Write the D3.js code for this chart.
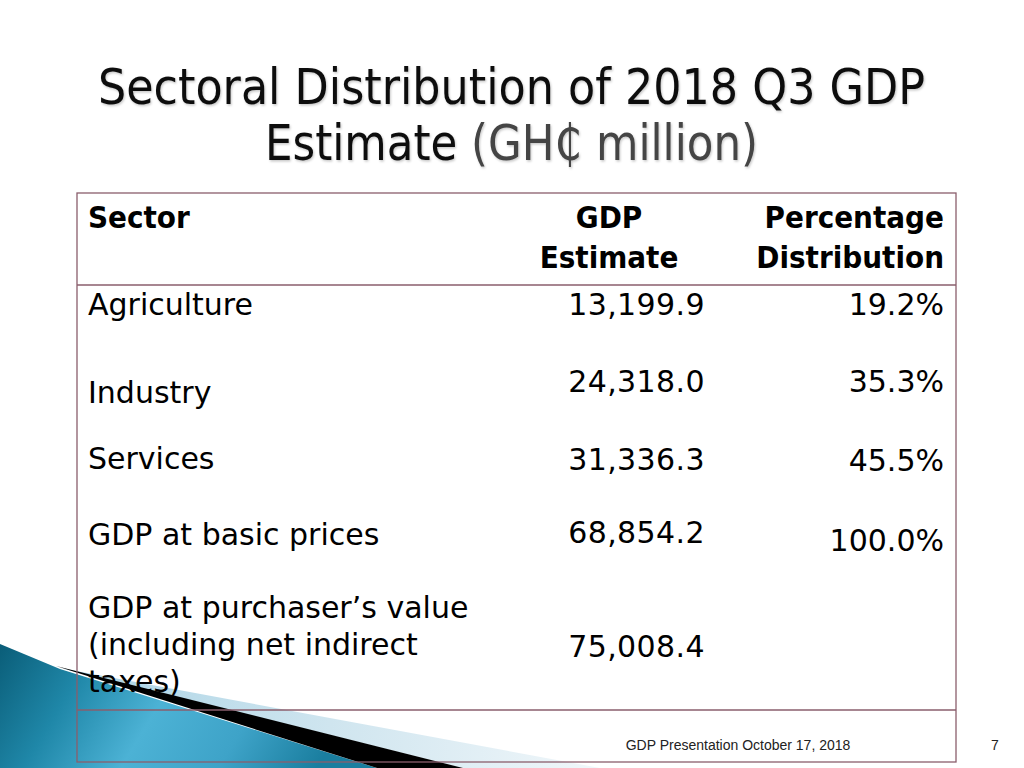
<!DOCTYPE html>
<html><head><meta charset="utf-8">
<script src="https://d3js.org/d3.v7.min.js"></script>
<style>body{margin:0;background:#fff}svg{display:block}</style>
</head><body>
<svg id="c" width="1024" height="768"></svg>
<script>
// ---- DATA ----
const titleLine1 = "Sectoral Distribution of 2018 Q3 GDP";
const titleLine2a = "Estimate ";
const titleLine2b = "(GH₵ million)";
const headerSector = ["Sector"];
const headerGdp = ["GDP", "Estimate"];
const headerPct = ["Percentage", "Distribution"];
const sectors = [
  ["Agriculture"],
  ["Industry"],
  ["Services"],
  ["GDP at basic prices"],
  ["GDP at purchaser’s value", "(including net indirect", "taxes)"]
];
const gdpEstimates = [13199.9, 24318.0, 31336.3, 68854.2, 75008.4];
const pctDistribution = [19.2, 35.3, 45.5, 100.0, null];
const footerText = "GDP Presentation October 17, 2018";
const slideNumber = "7";

// ---- LAYOUT ----
const L = {
  left: 77, right: 956, top: 193, headBottom: 285, lastLine: 710, bottom: 762,
  labelX: 88, valueRight: 705, pctRight: 944, gdpCenter: 609,
  headY: [228, 268],
  labelY: [315, 403, 469, 545, 618], lineStep: 37,
  valueY: [315, 392, 470, 543, 657],
  pctY: [315, 392, 471, 551, null]
};

const svg = d3.select("#c");
const defs = svg.append("defs");

// gradients
const g1 = defs.append("linearGradient").attr("id","blueG").attr("x1","0").attr("y1","0").attr("x2","1").attr("y2","0.2");
[[0,"#0a5d78"],[0.25,"#1f87a8"],[0.5,"#4cb2d5"],[0.75,"#3ea3c8"],[1,"#1a7e9f"]].forEach(s=>g1.append("stop").attr("offset",s[0]).attr("stop-color",s[1]));
const g2 = defs.append("linearGradient").attr("id","paleG").attr("x1","0").attr("y1","0").attr("x2","1").attr("y2","0");
[[0,"#a9d3e5"],[0.5,"#cfe5ef"],[1,"#f1f7fa"]].forEach(s=>g2.append("stop").attr("offset",s[0]).attr("stop-color",s[1]));
const sh = defs.append("filter").attr("id","shadow").attr("x","-5%").attr("y","-20%").attr("width","110%").attr("height","140%");
sh.append("feDropShadow").attr("dx",1).attr("dy",1.5).attr("stdDeviation",1.2).attr("flood-color","#000").attr("flood-opacity",0.22);

// decoration bottom-left
const line = d3.line();
svg.append("path").attr("d", line([[60,668],[600,768],[463,768]]) + "Z").attr("fill","url(#paleG)");
svg.append("path").attr("d", line([[0,644],[60,669],[377,768],[0,768]]) + "Z").attr("fill","url(#blueG)");
svg.append("path").attr("d", line([[56,666],[463,768],[377,768]]) + "Z").attr("fill","#000");

// title
const title = svg.append("g").attr("filter","url(#shadow)")
  .style("font-family","'DejaVu Sans Condensed','DejaVu Sans',sans-serif").style("font-size","49px");
title.append("text").attr("x",98).attr("y",104).attr("textLength",827).attr("lengthAdjust","spacingAndGlyphs")
  .attr("fill","#111").text(titleLine1);
const t2 = title.append("text").attr("x",265).attr("y",160).attr("textLength",493).attr("lengthAdjust","spacingAndGlyphs");
t2.append("tspan").attr("fill","#111").text(titleLine2a);
t2.append("tspan").attr("fill","#444").text(titleLine2b);

// table borders
const border = "#8a5e6c";
const tb = svg.append("g").attr("stroke", border).attr("stroke-width",1.3).attr("fill","none");
tb.append("rect").attr("x",L.left).attr("y",L.top).attr("width",L.right-L.left).attr("height",L.bottom-L.top);
[L.headBottom, L.lastLine].forEach(y => tb.append("line").attr("x1",L.left).attr("x2",L.right).attr("y1",y).attr("y2",y));

// header
const head = svg.append("g").style("font-family","'DejaVu Sans Condensed','DejaVu Sans',sans-serif")
  .style("font-weight","bold").style("font-size","31px").attr("fill","#000");
head.selectAll("text.hs").data(headerSector).join("text").attr("class","hs")
  .attr("x",L.labelX).attr("y",(d,i)=>L.headY[i]).text(d=>d);
head.selectAll("text.hg").data(headerGdp).join("text").attr("class","hg").attr("text-anchor","middle")
  .attr("x",L.gdpCenter).attr("y",(d,i)=>L.headY[i]).text(d=>d);
head.selectAll("text.hp").data(headerPct).join("text").attr("class","hp").attr("text-anchor","end")
  .attr("x",L.pctRight).attr("y",(d,i)=>L.headY[i]).text(d=>d);

// body
const body = svg.append("g").style("font-family","'DejaVu Sans',sans-serif").style("font-size","30px").attr("fill","#000");
const fmtV = d3.format(",.1f"), fmtP = d3.format(".1f");
sectors.forEach((lines, r) => {
  body.selectAll(null).data(lines).join("text")
    .attr("x",L.labelX).attr("y",(d,i)=>L.labelY[r] + i*L.lineStep).text(d=>d);
});
body.selectAll("text.v").data(gdpEstimates).join("text").attr("class","v").attr("text-anchor","end")
  .attr("x",L.valueRight).attr("y",(d,i)=>L.valueY[i]).style("letter-spacing","0.4px").text(d=>fmtV(d));
body.selectAll("text.p").data(pctDistribution.filter(d=>d!==null)).join("text").attr("class","p").attr("text-anchor","end")
  .attr("x",L.pctRight).attr("y",(d,i)=>L.pctY[i]).text(d=>fmtP(d)+"%");

// footer
const foot = svg.append("g").style("font-family","'Liberation Sans',Arial,sans-serif").style("font-size","14px").attr("fill","#222");
foot.append("text").attr("x",738).attr("y",750).attr("text-anchor","middle").text(footerText);
foot.append("text").attr("x",995).attr("y",750).attr("text-anchor","middle").text(slideNumber);
</script>
</body></html>
